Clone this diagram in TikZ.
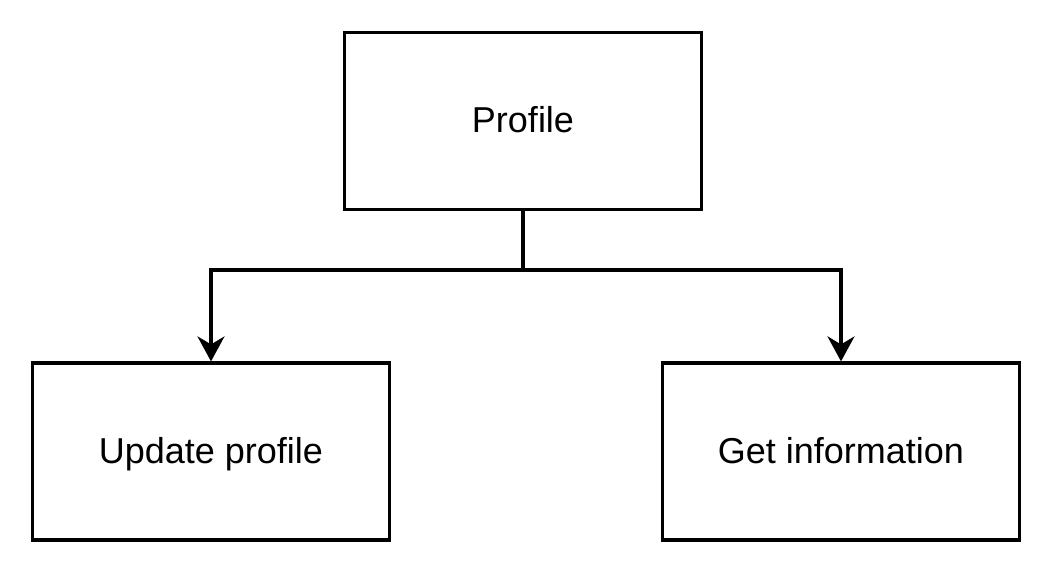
\documentclass[tikz,border=0pt]{standalone}
\usepackage{fontspec}
\setmainfont{Liberation Sans}
\usetikzlibrary{arrows.meta}
\begin{document}
\begin{tikzpicture}[x=1pt,y=-1pt,
  box/.style={draw,line width=3.2pt,minimum width=357pt,minimum height=177pt,inner sep=0pt,
    text height=30pt,text depth=7pt,
    font=\fontsize{36}{43}\selectfont},
  conn/.style={line width=3.2pt,-{Stealth[length=25pt,width=27pt,inset=8pt]}}]
\useasboundingbox (0,0) rectangle (1053,573);
\node[box] (p) at (523,121) {Profile};
\node[box] (u) at (211,451.5) {Update profile};
\node[box] (g) at (841,451.5) {Get information};
\coordinate (j) at (523,270);
\draw[line width=3.2pt] (p.south) -- (j);
\draw[conn] (j) -| (u.north);
\draw[conn] (j) -| (g.north);
\end{tikzpicture}
\end{document}
